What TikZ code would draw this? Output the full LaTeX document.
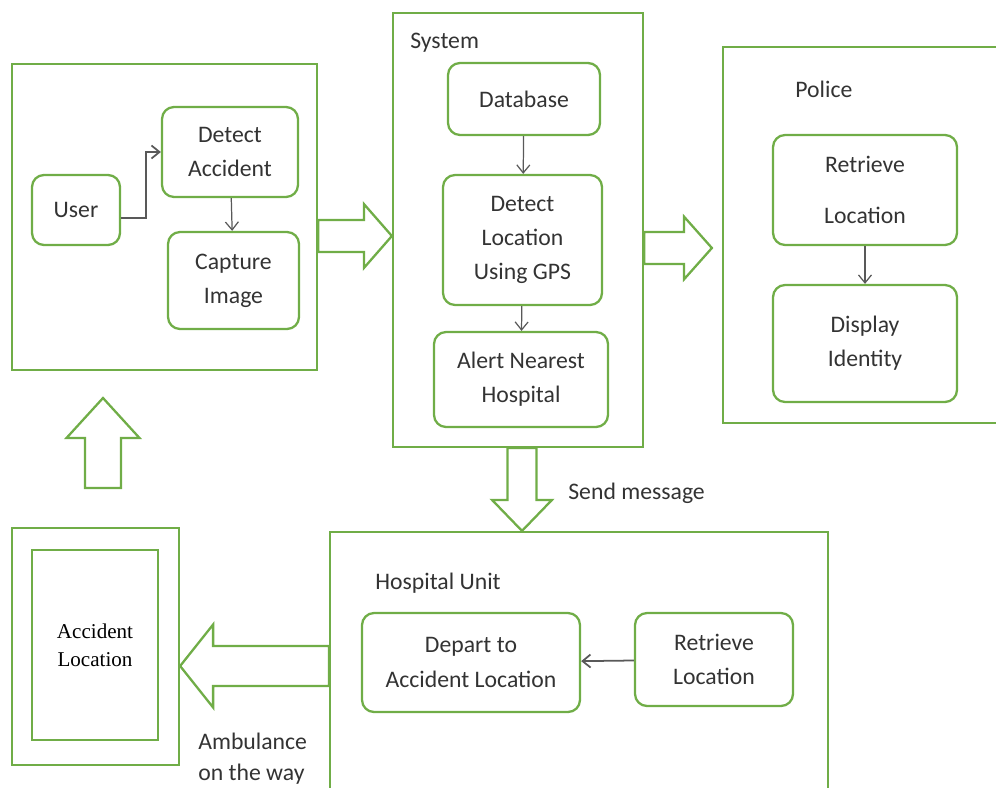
\documentclass[tikz,border=0pt]{standalone}
\usepackage{fontspec}
\setmainfont{Carlito}
\newfontfamily\serifnote{Liberation Serif}
\usetikzlibrary{calc,arrows.meta}

\definecolor{boxgreen}{HTML}{70AD47}
\definecolor{textgray}{HTML}{333333}

\tikzset{
    bigbox/.style={draw=boxgreen, line width=1.3pt, inner sep=0pt},
    procbox/.style={draw=boxgreen, line width=1.3pt, rounded corners=0.24cm,
        align=center, inner sep=0pt, text=textgray},
    flow/.style={draw=black!65, line width=0.7pt, -{Straight Barb[length=1.6mm,width=2.6mm]}},
    blockline/.style={draw=boxgreen, line width=1.3pt, fill=white},
    title/.style={anchor=west, text=textgray, inner sep=0pt},
}

% hollow block arrow: start, tip, half shaft, half head, head length
\newcommand{\blockarrow}[5]{%
    \coordinate (ba-base) at ($(#2)!#5!(#1)$);
    \draw[blockline] ($(#1)!#3!90:(#2)$) -- ($(ba-base)!#3!90:(#2)$)
        -- ($(ba-base)!#4!90:(#2)$) -- (#2) -- ($(ba-base)!#4!-90:(#2)$)
        -- ($(ba-base)!#3!-90:(#2)$) -- ($(#1)!#3!-90:(#2)$) -- cycle;}

\begin{document}
\begin{tikzpicture}[x=0.02cm, y=-0.02cm, font=\fontsize{13.5}{19.5}\selectfont]
    \useasboundingbox (0,0) rectangle (996,787);

    % frames
    \node[bigbox, minimum width=6.1cm, minimum height=6.12cm] (userbox) at (164.5,217) {};
    \node[bigbox, minimum width=5cm, minimum height=8.68cm] (system) at (518,230) {};
    \node[bigbox, minimum width=5.54cm, minimum height=7.52cm] (police) at (861.5,235) {};
    \node[bigbox, minimum width=9.96cm, minimum height=5.36cm] (hospital) at (579,666) {};
    \node[bigbox, minimum width=3.34cm, minimum height=4.74cm] (accout) at (95.5,646.5) {};
    \node[bigbox, minimum width=2.52cm, minimum height=3.8cm, text=black,
        font=\serifnote\fontsize{12}{16}\selectfont, align=center] (accin) at (95,645) {Accident\\Location};

    \node[title] (systitle) at (410,43) {System};
    \node[title] (poltitle) at (795,89) {Police};
    \node[title] (hostitle) at (375,583) {Hospital Unit};

    % user side
    \node[procbox, minimum width=1.76cm, minimum height=1.4cm] (user) at (76,210) {User};
    \node[procbox, minimum width=2.72cm, minimum height=1.8cm] (detect) at (230,152) {Detect\\Accident};
    \node[procbox, minimum width=2.62cm, minimum height=1.94cm] (capture) at (233.5,280.5) {Capture\\Image};
    \draw[flow, line width=1pt] ($(user.east)+(0,8)$) -- ++(25,0) |- (detect.west);
    \draw[flow] (detect) -- (capture);

    % system
    \node[procbox, minimum width=3.04cm, minimum height=1.44cm] (database) at (524,99) {Database};
    \node[procbox, minimum width=3.18cm, minimum height=2.6cm] (locate) at (522.5,240) {Detect\\Location\\Using GPS};
    \node[procbox, minimum width=3.48cm, minimum height=1.9cm] (alert) at (521,379.5) {Alert Nearest\\Hospital};
    \draw[flow] (database) -- (locate);
    \draw[flow] (locate) -- (alert);

    % police
    \node[procbox, minimum width=3.68cm, minimum height=2.2cm] (retrieve) at (865,190) {Retrieve\\[10pt]Location};
    \node[procbox, minimum width=3.68cm, minimum height=2.34cm] (display) at (865,343.5) {Display\\Identity};
    \draw[flow] (retrieve) -- (display);

    % hospital unit
    \node[procbox, minimum width=4.36cm, minimum height=1.98cm] (depart) at (471,662.5) {Depart to\\Accident Location};
    \node[procbox, minimum width=3.16cm, minimum height=1.86cm] (hretrieve) at (714,659.5) {Retrieve\\Location};
    \draw[flow, line width=1pt] (hretrieve) -- (depart);

    % block arrows
    \coordinate (sysin) at ($(system.west)+(0,6)$);
    \coordinate (userout) at (userbox.east |- sysin);
    \blockarrow{userout}{sysin}{0.32cm}{0.64cm}{0.56cm}
    \coordinate (polin) at ($(police.west)+(-10,13)$);
    \coordinate (sysout) at (system.east |- polin);
    \blockarrow{sysout}{polin}{0.32cm}{0.63cm}{0.56cm}
    \coordinate (hosin) at ($(hospital.north -| system.south)+(4,0)$);
    \coordinate (sysdown) at (hosin |- system.south);
    \blockarrow{sysdown}{hosin}{0.29cm}{0.6cm}{0.62cm}
    \coordinate (accin-tip) at (accout.east |- hospital.west);
    \coordinate (hosout) at (hospital.west);
    \blockarrow{hosout}{accin-tip}{0.4cm}{0.83cm}{0.66cm}
    \coordinate (upbot) at (103,488);
    \coordinate (uptop) at (103,398);
    \blockarrow{upbot}{uptop}{0.36cm}{0.73cm}{0.8cm}

    \node[title] (sendlabel) at (568,493) {Send message};
    \node[title, align=left, font=\fontsize{13.5}{17.6}\selectfont, anchor=north west] (amblabel) at (198,733) {Ambulance\\on the way};
\end{tikzpicture}
\end{document}
